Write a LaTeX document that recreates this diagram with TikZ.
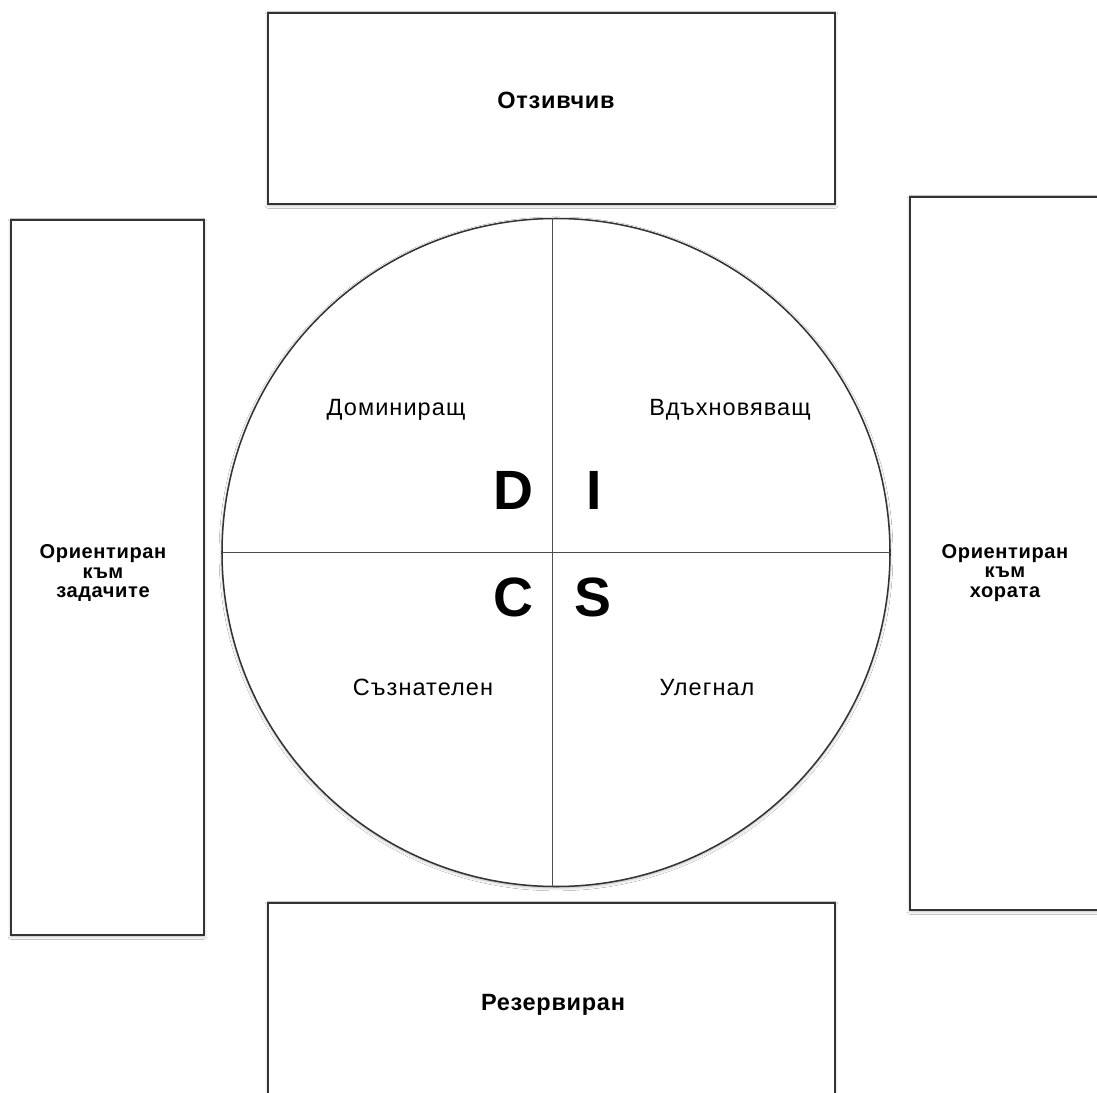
\documentclass[tikz,border=0pt]{standalone}
\usepackage{fontspec}
\setmainfont{Liberation Sans}
\usetikzlibrary{shadows.blur}
\tikzset{frame/.style={draw=black!80,line width=1.4pt,fill=white,inner sep=0pt,blur shadow={shadow xshift=0pt,shadow yshift=-1pt,shadow blur steps=6,shadow opacity=30}},boxtext/.style={anchor=base,inner sep=1pt,align=center,font=\bfseries\addfontfeature{LetterSpace=3}\fontsize{17}{18}\selectfont},sidetext/.style={anchor=center,inner sep=1pt,align=center,font=\bfseries\addfontfeature{LetterSpace=3}\fontsize{14.5}{14.4}\selectfont},quadtext/.style={anchor=base,inner sep=1pt,font=\addfontfeature{LetterSpace=4.5}\fontsize{17}{18}\selectfont},letter/.style={anchor=center,inner sep=0pt,font=\bfseries\fontsize{40}{44}\selectfont}}

\begin{document}
\begin{tikzpicture}[x=1in,y=-1in]
\path[use as bounding box,fill=white] (0,0) rectangle (10.97,10.92);
\node[frame,minimum width=5.67in,minimum height=1.91in] (top) at (5.51500,1.08500) {};
\node[frame,minimum width=5.67in,minimum height=1.95in] (bottom) at (5.51500,10.00500) {};
\node[frame,minimum width=1.93in,minimum height=7.15in] (left) at (1.07500,5.77500) {};
\node[frame,minimum width=1.93in,minimum height=7.13in] (right) at (10.06500,5.53500) {};
\node[circle,draw=black!80,line width=1.1pt,fill=white,minimum size=6.68in,inner sep=0pt,blur shadow={shadow xshift=0pt,shadow yshift=-1pt,shadow blur steps=6,shadow opacity=30}] (disc) at (5.56000,5.52500) {};
\draw[black!70,line width=.7pt] ([xshift=-.04in]disc.north) -- ([xshift=-.04in]disc.south);
\draw[black!70,line width=.7pt] (disc.west) -- (disc.east);
\node[boxtext] (responsive) at (5.56000,1.08000) {Отзивчив};
\node[boxtext] (reserved) at (5.53000,10.10000) {Резервиран};
\node[sidetext] (tasks) at (1.03000,5.73000) {Ориентиран\\към\\задачите};
\node[sidetext] (people) at (10.05000,5.73000) {Ориентиран\\към\\хората};
\node[quadtext] (dominant) at (3.96000,4.15000) {Доминиращ};
\node[quadtext] (inspiring) at (7.30000,4.15000) {Вдъхновяващ};
\node[quadtext] (conscious) at (4.23000,6.95500) {Съзнателен};
\node[quadtext] (steady) at (7.07000,6.95500) {Улегнал};
\node[letter] (D) at (5.13000,4.90000) {D};
\node[letter] (I) at (5.94000,4.90000) {I};
\node[letter] (C) at (5.13000,5.97000) {C};
\node[letter] (S) at (5.93000,5.97000) {S};
\end{tikzpicture}
\end{document}
